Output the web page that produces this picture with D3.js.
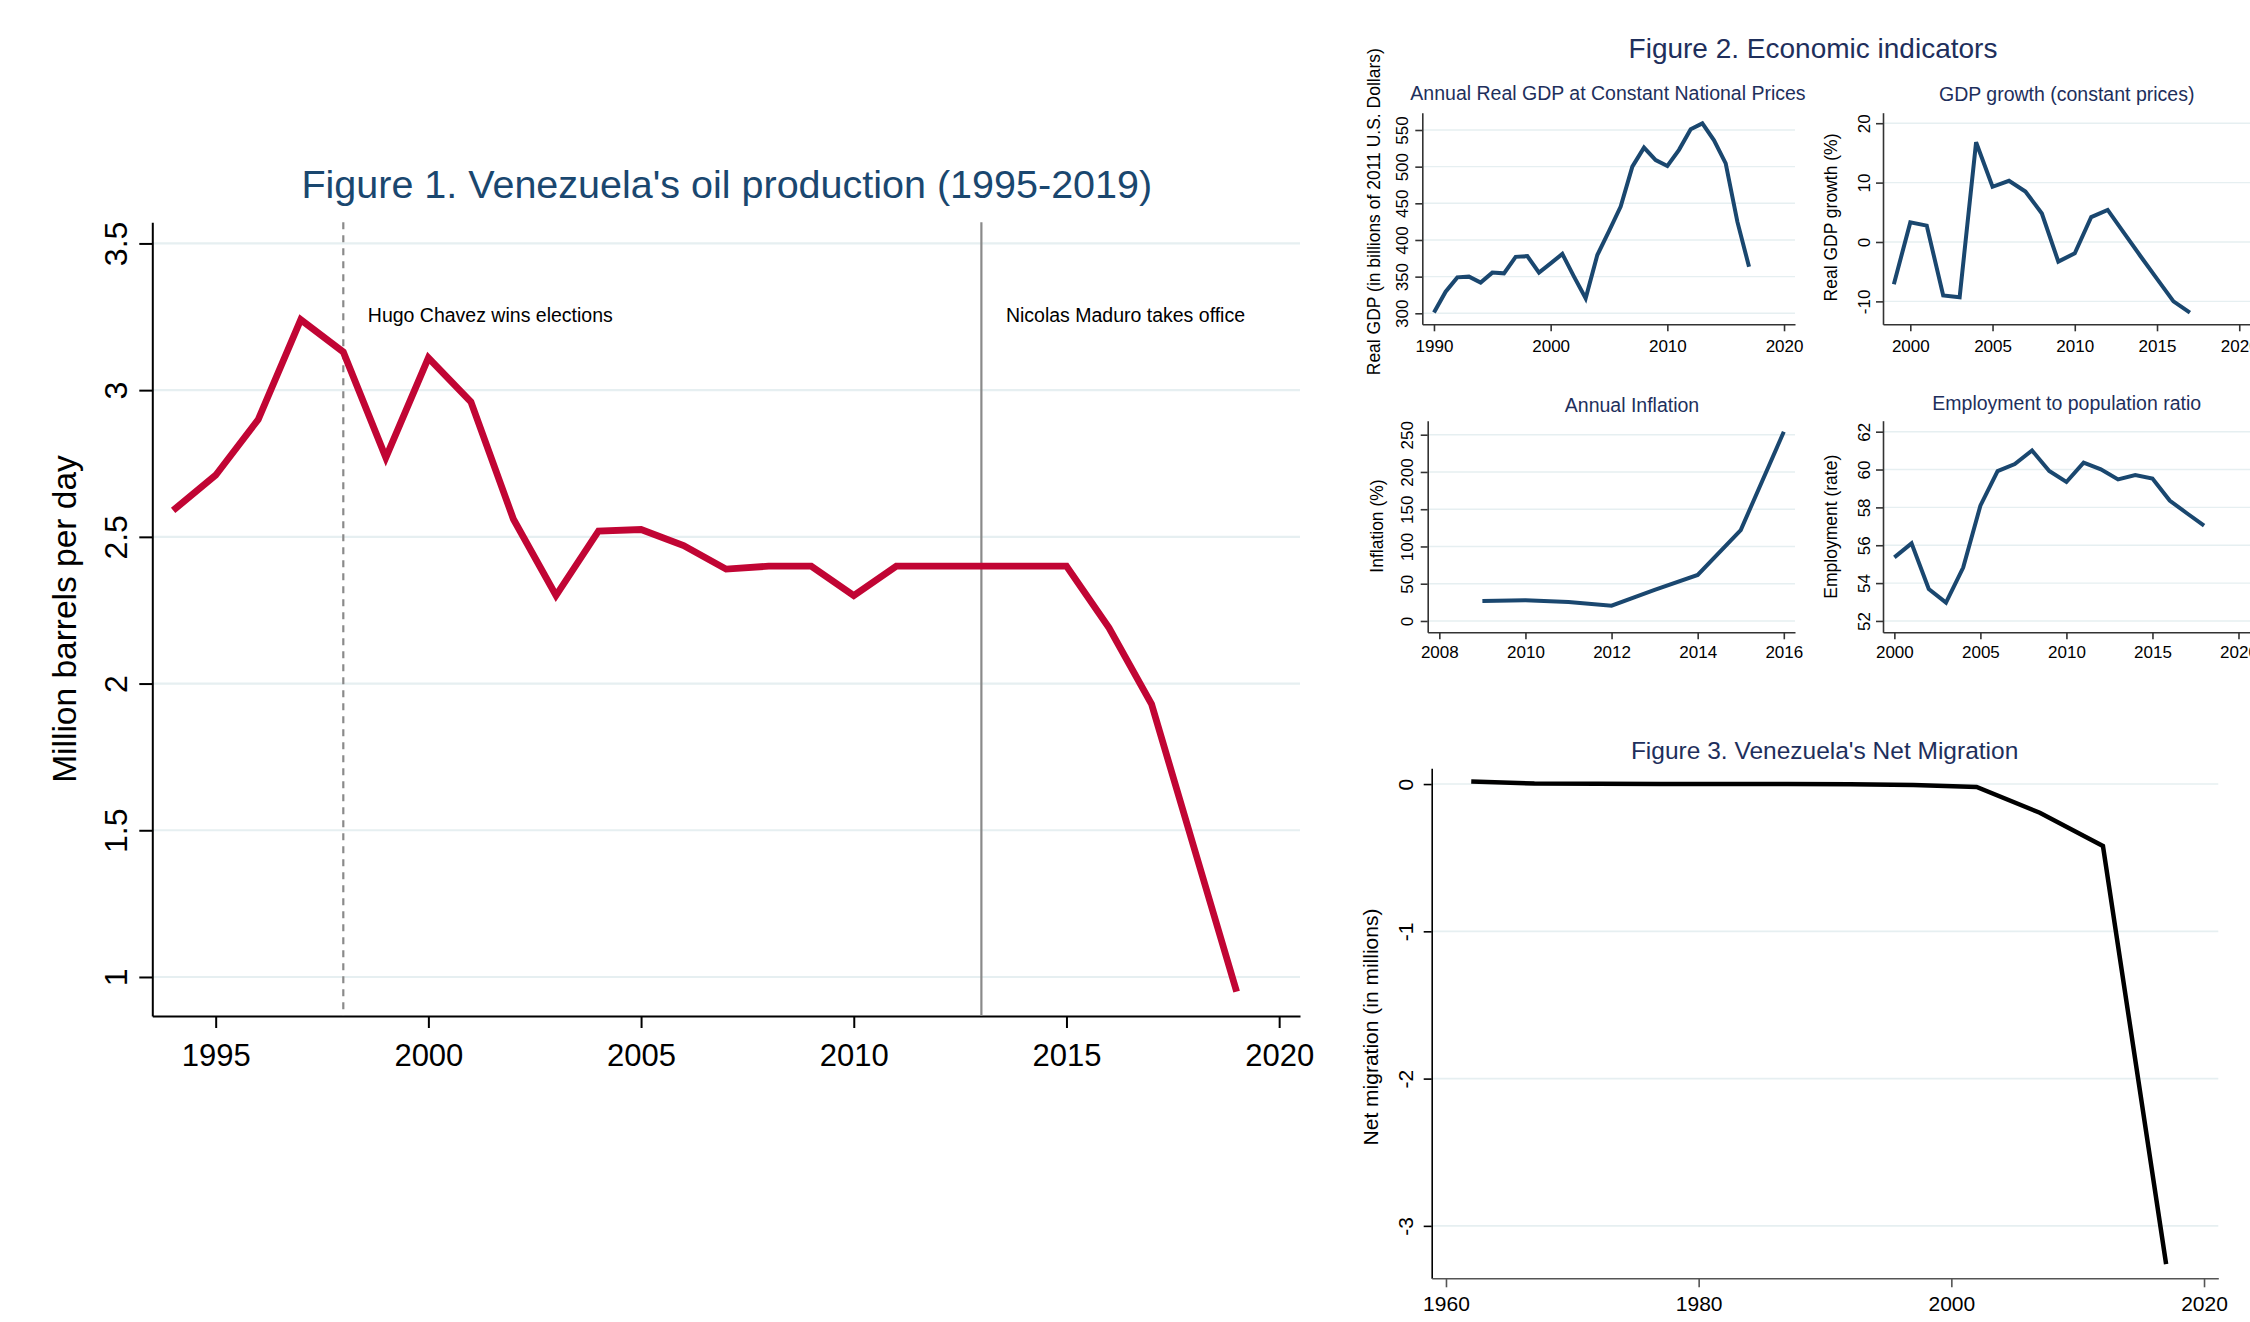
<!DOCTYPE html>
<html><head><meta charset="utf-8">
<script src="https://cdn.jsdelivr.net/npm/d3@7"></script>
<style>
body{margin:0;background:#fff}
svg{display:block;background:#fff}
text{font-family:"Liberation Sans",Arial,Helvetica,sans-serif}
</style>
</head><body>
<svg id="chart" width="2250" height="1322"></svg>
<script>
// ---------- DATA ----------
const oilYears = [1994,1995,1996,1997,1998,1999,2000,2001,2002,2003,2004,2005,2006,2007,2008,2009,2010,2011,2012,2013,2014,2015,2016,2017,2018,2019];
const oilValues = [2.59,2.71,2.90,3.24,3.13,2.77,3.11,2.96,2.56,2.30,2.52,2.525,2.47,2.39,2.40,2.40,2.30,2.40,2.40,2.40,2.40,2.40,2.19,1.93,1.44,0.95];
const oilXTicks = [1995,2000,2005,2010,2015,2020];
const oilYTicks = [1,1.5,2,2.5,3,3.5];
const events = [{year:1998,label:"Hugo Chavez wins elections",dashed:true},{year:2013,label:"Nicolas Maduro takes office",dashed:false}];

const gdpYears = [1990,1991,1992,1993,1994,1995,1996,1997,1998,1999,2000,2001,2002,2003,2004,2005,2006,2007,2008,2009,2010,2011,2012,2013,2014,2015,2016,2017];
const gdpValues = [301,329.5,349,350,342,355.5,354.5,377,378,355.5,368,381,350,320.5,379.5,412,445.5,500,526,509,501,523,551,559,536,504.5,425,363.5];
const gdpXTicks = [1990,2000,2010,2020];
const gdpYTicks = [300,350,400,450,500,550];

const growthYears = [1999,2000,2001,2002,2003,2004,2005,2006,2007,2008,2009,2010,2011,2012,2013,2014,2015,2016,2017];
const growthValues = [-7.1,3.3,2.75,-9.0,-9.3,16.8,9.3,10.3,8.5,4.8,-3.3,-1.9,4.2,5.4,1.5,-2.4,-6.2,-10.0,-11.9];
const growthXTicks = [2000,2005,2010,2015,2020];
const growthYTicks = [-10,0,10,20];

const inflYears = [2009,2010,2011,2012,2013,2014,2015,2016];
const inflValues = [26.8,27.7,25.5,20.6,41.6,61.7,122,254];
const inflXTicks = [2008,2010,2012,2014,2016];
const inflYTicks = [0,50,100,150,200,250];

const empYears = [2000,2001,2002,2003,2004,2005,2006,2007,2008,2009,2010,2011,2012,2013,2014,2015,2016,2017,2018];
const empValues = [55.36,56.1,53.69,52.97,54.82,58.09,59.92,60.29,61.01,59.92,59.34,60.36,60.01,59.48,59.71,59.52,58.36,57.69,57.04];
const empXTicks = [2000,2005,2010,2015,2020];
const empYTicks = [52,54,56,58,60,62];

const migYears = [1962,1967,1972,1977,1982,1987,1992,1997,2002,2007,2012,2017];
const migValues = [0.018,0.003,0.002,0.001,0.001,0.0,-0.002,-0.006,-0.02,-0.195,-0.42,-3.26];
const migXTicks = [1960,1980,2000,2020];
const migYTicks = [-3,-2,-1,0];

// ---------- DRAWING ----------
const svg = d3.select("#chart");
svg.append("rect").attr("width",2250).attr("height",1322).attr("fill","#fff");

function panel(o){
  const g = svg.append("g");
  const x = d3.scaleLinear().domain(o.xDomain).range(o.xRange);
  const y = d3.scaleLinear().domain(o.yDomain).range(o.yRange);
  // gridlines
  g.selectAll("line.grid").data(o.yTicks).join("line")
    .attr("class","grid")
    .attr("x1",o.xRange[0]).attr("x2",o.xRange[1])
    .attr("y1",d=>y(d)).attr("y2",d=>y(d))
    .attr("stroke","#e6eff1").attr("stroke-width",o.gridW);
  // y axis
  const ya = g.append("g").attr("transform",`translate(${o.xRange[0]},0)`)
    .call(d3.axisLeft(y).tickValues(o.yTicks).tickSize(o.yTickLen).tickSizeOuter(0).tickFormat(o.yFmt||(d=>String(d))));
  ya.select(".domain").attr("stroke",o.yAxisColor).attr("stroke-width",o.axisW);
  ya.selectAll(".tick line").attr("stroke",o.yAxisColor).attr("stroke-width",o.axisW);
  ya.selectAll(".tick text")
    .attr("transform","rotate(-90)").attr("x",0).attr("y",-o.yLabOff).attr("dy",0)
    .attr("text-anchor","middle").attr("fill","#000")
    .style("font-size",o.yTickFont+"px").style("font-family",'"Liberation Sans",Arial,sans-serif');
  // x axis
  const xa = g.append("g").attr("transform",`translate(0,${o.yRange[0]})`)
    .call(d3.axisBottom(x).tickValues(o.xTicks).tickSize(o.xTickLen).tickSizeOuter(0).tickFormat(d=>String(d)));
  xa.select(".domain").attr("stroke",o.xAxisColor).attr("stroke-width",o.axisW);
  xa.selectAll(".tick line").attr("stroke",o.xAxisColor).attr("stroke-width",o.axisW);
  xa.selectAll(".tick text")
    .attr("y",o.xLabOff).attr("dy",0).attr("fill","#000")
    .style("font-size",o.xTickFont+"px").style("font-family",'"Liberation Sans",Arial,sans-serif');
  // reference lines
  (o.events||[]).forEach(ev=>{
    g.append("line").attr("x1",x(ev.year)).attr("x2",x(ev.year))
      .attr("y1",o.yRange[1]).attr("y2",o.yRange[0])
      .attr("stroke","#8a8a8a").attr("stroke-width",2.2)
      .attr("stroke-dasharray",ev.dashed?"7,6":null);
    g.append("text").attr("x",x(ev.year)+o.evDx).attr("y",o.evY)
      .attr("fill","#000").style("font-size",o.evFont+"px").text(ev.label);
  });
  // data line
  const pts = o.years.map((yr,i)=>[yr,o.values[i]]);
  g.append("path").datum(pts)
    .attr("fill","none").attr("stroke",o.color).attr("stroke-width",o.lineW)
    .attr("stroke-linejoin","miter").attr("stroke-miterlimit",4)
    .attr("d",d3.line().x(d=>x(d[0])).y(d=>y(d[1])));
  // title
  g.append("text").attr("x",o.titleX).attr("y",o.titleY).attr("text-anchor","middle")
    .attr("fill",o.titleColor).style("font-size",o.titleFont+"px").text(o.title);
  // y title
  g.append("text").attr("transform",`translate(${o.yTitleX},${o.yTitleY}) rotate(-90)`)
    .attr("text-anchor","middle").attr("fill","#000").style("font-size",o.yTitleFont+"px").text(o.yTitle);
}

// Figure 1
panel({
  years:oilYears, values:oilValues, xTicks:oilXTicks, yTicks:oilYTicks,
  xDomain:[1993.51,2020.49], xRange:[152.3,1300],
  yDomain:[0.867,3.572], yRange:[1016,222.3],
  gridW:2.2, axisW:2, yAxisColor:"#000", xAxisColor:"#000",
  yTickLen:13, xTickLen:12, yLabOff:25, xLabOff:49.7, yTickFont:32, xTickFont:31,
  color:"#c10534", lineW:6.8,
  title:"Figure 1. Venezuela's oil production (1995-2019)", titleX:726.8, titleY:198.3, titleFont:39.5, titleColor:"#1a476f",
  yTitle:"Million barrels per day", yTitleX:76, yTitleY:619, yTitleFont:33.5,
  events:events, evDx:24.5, evY:321.5, evFont:19.5
});

// Figure 2 main title
svg.append("text").attr("x",1813).attr("y",58.3).attr("text-anchor","middle")
  .attr("fill","#1e2f5c").style("font-size","28px").text("Figure 2. Economic indicators");

// GDP
panel({
  years:gdpYears, values:gdpValues, xTicks:gdpXTicks, yTicks:gdpYTicks,
  xDomain:[1989.0,2020.94], xRange:[1422.3,1795],
  yDomain:[285,573.6], yRange:[324.3,112.7],
  gridW:1.4, axisW:1.6, yAxisColor:"#333", xAxisColor:"#333",
  yTickLen:7, xTickLen:7, yLabOff:14, xLabOff:27.4, yTickFont:17, xTickFont:17,
  color:"#1a476f", lineW:4,
  title:"Annual Real GDP at Constant National Prices", titleX:1608, titleY:100, titleFont:19.5, titleColor:"#1e2f5c",
  yTitle:"Real GDP (in billions of 2011 U.S. Dollars)", yTitleX:1380, yTitleY:211.7, yTitleFont:17.5
});

// GDP growth
panel({
  years:growthYears, values:growthValues, xTicks:growthXTicks, yTicks:growthYTicks,
  xDomain:[1998.34,2021.0], xRange:[1883,2255.7],
  yDomain:[-13.86,21.77], yRange:[324.3,112.7],
  gridW:1.4, axisW:1.6, yAxisColor:"#333", xAxisColor:"#333",
  yTickLen:7, xTickLen:7, yLabOff:13, xLabOff:27.4, yTickFont:17, xTickFont:17,
  color:"#1a476f", lineW:4,
  title:"GDP growth (constant prices)", titleX:2066.7, titleY:101, titleFont:19.5, titleColor:"#1e2f5c",
  yTitle:"Real GDP growth (%)", yTitleX:1836.6, yTitleY:217.5, yTitleFont:17.5
});

// Inflation
panel({
  years:inflYears, values:inflValues, xTicks:inflXTicks, yTicks:inflYTicks,
  xDomain:[2007.73,2016.26], xRange:[1427.7,1795],
  yDomain:[-15.2,268.8], yRange:[632.3,420.7],
  gridW:1.4, axisW:1.6, yAxisColor:"#333", xAxisColor:"#333",
  yTickLen:7, xTickLen:7, yLabOff:14.4, xLabOff:26, yTickFont:17, xTickFont:17,
  color:"#1a476f", lineW:4,
  title:"Annual Inflation", titleX:1632, titleY:411.5, titleFont:19.5, titleColor:"#1e2f5c",
  yTitle:"Inflation (%)", yTitleX:1383.2, yTitleY:526, yTitleFont:17.5
});

// Employment
panel({
  years:empYears, values:empValues, xTicks:empXTicks, yTicks:empYTicks,
  xDomain:[1999.34,2021.0], xRange:[1883,2255.7],
  yDomain:[51.40,62.58], yRange:[632.3,420.7],
  gridW:1.4, axisW:1.6, yAxisColor:"#333", xAxisColor:"#333",
  yTickLen:7, xTickLen:7, yLabOff:13, xLabOff:26, yTickFont:17, xTickFont:17,
  color:"#1a476f", lineW:4,
  title:"Employment to population ratio", titleX:2066.7, titleY:409.5, titleFont:19.5, titleColor:"#1e2f5c",
  yTitle:"Employment (rate)", yTitleX:1836.6, yTitleY:526.7, yTitleFont:17.5
});

// Figure 3
panel({
  years:migYears, values:migValues, xTicks:migXTicks, yTicks:migYTicks,
  xDomain:[1958.87,2021.13], xRange:[1431.7,2218.3],
  yDomain:[-3.356,0.107], yRange:[1278.3,768.3],
  gridW:1.6, axisW:1.6, yAxisColor:"#000", xAxisColor:"#555",
  yTickLen:8, xTickLen:9, yLabOff:19, xLabOff:32.4, yTickFont:21, xTickFont:21,
  color:"#000", lineW:4.5,
  title:"Figure 3. Venezuela's Net Migration", titleX:1824.6, titleY:759, titleFont:24.5, titleColor:"#1e2f5c",
  yTitle:"Net migration (in millions)", yTitleX:1378.3, yTitleY:1027, yTitleFont:21
});
</script>
</body></html>
